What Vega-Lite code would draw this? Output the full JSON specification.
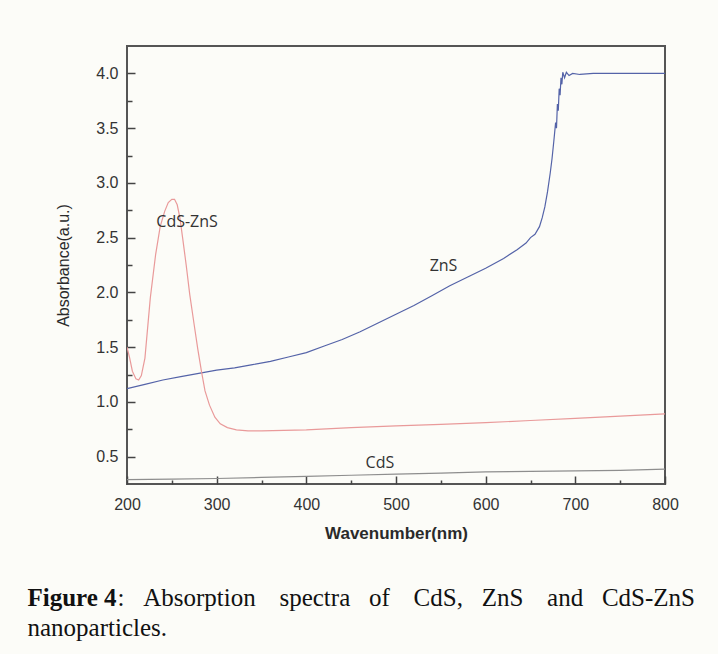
{
  "$schema": "https://vega.github.io/schema/vega-lite/v6.json",
  "autosize": "none",
  "width": 538,
  "height": 438,
  "padding": {"left": 127, "top": 46, "right": 53, "bottom": 170},
  "background": "#fcfcf8",
  "config": {
    "view": {"stroke": "#555555", "strokeWidth": 2},
    "axis": {"domain": false, "grid": false, "labelFont": "Liberation Sans", "labelFontSize": 16, "labelColor": "#333333", "labelFlush": false, "tickColor": "#444444", "tickWidth": 1.5, "titleFont": "Liberation Sans", "titleColor": "#2a2a2a"}
  },
  "datasets": {
    "spectra": [
      {"series": "ZnS", "x": 200, "y": 1.12}, {"series": "ZnS", "x": 220, "y": 1.16}, {"series": "ZnS", "x": 240, "y": 1.2}, {"series": "ZnS", "x": 260, "y": 1.23}, {"series": "ZnS", "x": 280, "y": 1.26}, {"series": "ZnS", "x": 300, "y": 1.29}, {"series": "ZnS", "x": 320, "y": 1.31}, {"series": "ZnS", "x": 340, "y": 1.34}, {"series": "ZnS", "x": 360, "y": 1.37}, {"series": "ZnS", "x": 380, "y": 1.41}, {"series": "ZnS", "x": 400, "y": 1.45}, {"series": "ZnS", "x": 420, "y": 1.51}, {"series": "ZnS", "x": 440, "y": 1.57}, {"series": "ZnS", "x": 460, "y": 1.64}, {"series": "ZnS", "x": 480, "y": 1.72}, {"series": "ZnS", "x": 500, "y": 1.8}, {"series": "ZnS", "x": 520, "y": 1.88}, {"series": "ZnS", "x": 540, "y": 1.97}, {"series": "ZnS", "x": 560, "y": 2.06}, {"series": "ZnS", "x": 580, "y": 2.14}, {"series": "ZnS", "x": 600, "y": 2.22}, {"series": "ZnS", "x": 620, "y": 2.31}, {"series": "ZnS", "x": 635, "y": 2.39}, {"series": "ZnS", "x": 645, "y": 2.45}, {"series": "ZnS", "x": 650, "y": 2.5}, {"series": "ZnS", "x": 655, "y": 2.53}, {"series": "ZnS", "x": 660, "y": 2.6}, {"series": "ZnS", "x": 663, "y": 2.68}, {"series": "ZnS", "x": 666, "y": 2.78}, {"series": "ZnS", "x": 669, "y": 2.92}, {"series": "ZnS", "x": 672, "y": 3.09}, {"series": "ZnS", "x": 674, "y": 3.22}, {"series": "ZnS", "x": 676, "y": 3.38}, {"series": "ZnS", "x": 678, "y": 3.55}, {"series": "ZnS", "x": 679, "y": 3.5}, {"series": "ZnS", "x": 680, "y": 3.72}, {"series": "ZnS", "x": 681, "y": 3.66}, {"series": "ZnS", "x": 682, "y": 3.86}, {"series": "ZnS", "x": 683, "y": 3.8}, {"series": "ZnS", "x": 684, "y": 3.96}, {"series": "ZnS", "x": 685, "y": 3.9}, {"series": "ZnS", "x": 686, "y": 4.01}, {"series": "ZnS", "x": 688, "y": 3.96}, {"series": "ZnS", "x": 690, "y": 4.01}, {"series": "ZnS", "x": 693, "y": 3.98}, {"series": "ZnS", "x": 697, "y": 4.0}, {"series": "ZnS", "x": 705, "y": 3.99}, {"series": "ZnS", "x": 720, "y": 4.0}, {"series": "ZnS", "x": 750, "y": 4.0}, {"series": "ZnS", "x": 800, "y": 4.0},
      {"series": "CdS-ZnS", "x": 200, "y": 1.5}, {"series": "CdS-ZnS", "x": 203, "y": 1.4}, {"series": "CdS-ZnS", "x": 206, "y": 1.28}, {"series": "CdS-ZnS", "x": 210, "y": 1.21}, {"series": "CdS-ZnS", "x": 213, "y": 1.2}, {"series": "CdS-ZnS", "x": 216, "y": 1.24}, {"series": "CdS-ZnS", "x": 220, "y": 1.4}, {"series": "CdS-ZnS", "x": 226, "y": 1.95}, {"series": "CdS-ZnS", "x": 232, "y": 2.35}, {"series": "CdS-ZnS", "x": 237, "y": 2.6}, {"series": "CdS-ZnS", "x": 242, "y": 2.74}, {"series": "CdS-ZnS", "x": 246, "y": 2.82}, {"series": "CdS-ZnS", "x": 250, "y": 2.85}, {"series": "CdS-ZnS", "x": 253, "y": 2.85}, {"series": "CdS-ZnS", "x": 256, "y": 2.8}, {"series": "CdS-ZnS", "x": 259, "y": 2.68}, {"series": "CdS-ZnS", "x": 262, "y": 2.5}, {"series": "CdS-ZnS", "x": 266, "y": 2.25}, {"series": "CdS-ZnS", "x": 270, "y": 1.98}, {"series": "CdS-ZnS", "x": 275, "y": 1.7}, {"series": "CdS-ZnS", "x": 279, "y": 1.48}, {"series": "CdS-ZnS", "x": 283, "y": 1.28}, {"series": "CdS-ZnS", "x": 287, "y": 1.1}, {"series": "CdS-ZnS", "x": 292, "y": 0.97}, {"series": "CdS-ZnS", "x": 298, "y": 0.86}, {"series": "CdS-ZnS", "x": 304, "y": 0.8}, {"series": "CdS-ZnS", "x": 312, "y": 0.765}, {"series": "CdS-ZnS", "x": 322, "y": 0.745}, {"series": "CdS-ZnS", "x": 335, "y": 0.735}, {"series": "CdS-ZnS", "x": 350, "y": 0.735}, {"series": "CdS-ZnS", "x": 400, "y": 0.745}, {"series": "CdS-ZnS", "x": 450, "y": 0.765}, {"series": "CdS-ZnS", "x": 500, "y": 0.78}, {"series": "CdS-ZnS", "x": 550, "y": 0.795}, {"series": "CdS-ZnS", "x": 600, "y": 0.81}, {"series": "CdS-ZnS", "x": 650, "y": 0.83}, {"series": "CdS-ZnS", "x": 700, "y": 0.85}, {"series": "CdS-ZnS", "x": 750, "y": 0.87}, {"series": "CdS-ZnS", "x": 800, "y": 0.89},
      {"series": "CdS", "x": 200, "y": 0.29}, {"series": "CdS", "x": 250, "y": 0.295}, {"series": "CdS", "x": 300, "y": 0.3}, {"series": "CdS", "x": 350, "y": 0.31}, {"series": "CdS", "x": 400, "y": 0.32}, {"series": "CdS", "x": 450, "y": 0.33}, {"series": "CdS", "x": 500, "y": 0.34}, {"series": "CdS", "x": 550, "y": 0.35}, {"series": "CdS", "x": 600, "y": 0.36}, {"series": "CdS", "x": 650, "y": 0.365}, {"series": "CdS", "x": 700, "y": 0.37}, {"series": "CdS", "x": 750, "y": 0.375}, {"series": "CdS", "x": 800, "y": 0.385}
    ],
    "labels": [
      {"text": "CdS-ZnS", "x": 267, "y": 2.64, "align": "left"},
      {"text": "ZnS", "x": 553, "y": 2.24, "align": "center"},
      {"text": "CdS", "x": 482, "y": 0.44, "align": "center"}
    ],
    "minor": [{"x": 250, "y": 0.75}]
  },
  "resolve": {"axis": {"x": "independent", "y": "independent"}},
  "layer": [
    {
      "data": {"name": "spectra"},
      "mark": {"type": "line", "strokeWidth": 1.2, "clip": true},
      "encoding": {
        "x": {"field": "x", "type": "quantitative", "scale": {"domain": [200, 800], "nice": false, "zero": false},
          "axis": {"orient": "bottom", "values": [200, 300, 400, 500, 600, 700, 800], "tickSize": -8, "labelPadding": 20, "title": "Wavenumber(nm)", "titleFontSize": 17, "titleFontWeight": "bold", "titlePadding": 13}},
        "y": {"field": "y", "type": "quantitative", "scale": {"domain": [0.25, 4.25], "nice": false, "zero": false},
          "axis": {"orient": "left", "values": [0.5, 1, 1.5, 2, 2.5, 3, 3.5, 4], "format": ".1f", "tickSize": -8, "labelPadding": 17, "title": "Absorbance(a.u.)", "titleFontSize": 16, "titleFontWeight": "normal", "titlePadding": 24}},
        "color": {"field": "series", "type": "nominal", "scale": {"domain": ["ZnS", "CdS-ZnS", "CdS"], "range": ["#5463a8", "#e99a9a", "#8e8e8e"]}, "legend": null}
      }
    },
    {
      "data": {"name": "minor"},
      "mark": {"type": "point", "opacity": 0},
      "encoding": {
        "x": {"field": "x", "type": "quantitative", "scale": {"domain": [200, 800], "nice": false, "zero": false},
          "axis": {"orient": "bottom", "values": [250, 350, 450, 550, 650, 750], "tickSize": -4, "labels": false,
            "title": ": \u00a0\u00a0Absorption \u00a0\u00a0\u2009spectra \u00a0\u00a0of \u00a0\u00a0\u2009CdS, \u00a0\u00a0ZnS \u00a0\u00a0\u2009and \u00a0\u00a0CdS-ZnS",
            "titleX": -10, "titleY": 101, "titleAlign": "left", "titleBaseline": "top", "titleAngle": 0,
            "titleFont": "Liberation Serif", "titleFontSize": 25, "titleFontWeight": "normal", "titleColor": "#111111"}},
        "y": {"field": "y", "type": "quantitative", "scale": {"domain": [0.25, 4.25], "nice": false, "zero": false},
          "axis": {"orient": "left", "values": [0.75, 1.25, 1.75, 2.25, 2.75, 3.25, 3.75], "tickSize": -5, "labels": false, "title": null}}
      }
    },
    {
      "data": {"name": "labels"},
      "mark": {"type": "text", "font": "Open Sans", "fontSize": 16, "color": "#333333", "baseline": "middle"},
      "encoding": {
        "x": {"field": "x", "type": "quantitative",
          "axis": {"orient": "bottom", "ticks": false, "labels": false, "domain": false,
            "title": "Figure 4", "titleX": -100, "titleY": 101, "titleAlign": "left", "titleBaseline": "top", "titleAngle": 0,
            "titleFont": "Liberation Serif", "titleFontSize": 25, "titleFontWeight": "bold", "titleColor": "#111111"}},
        "y": {"field": "y", "type": "quantitative",
          "axis": {"orient": "left", "ticks": false, "labels": false, "domain": false,
            "title": "nanoparticles.", "titleX": -100, "titleY": 569, "titleAlign": "left", "titleBaseline": "top", "titleAngle": 0,
            "titleFont": "Liberation Serif", "titleFontSize": 25, "titleFontWeight": "normal", "titleColor": "#111111"}},
        "text": {"field": "text"},
        "align": {"field": "align"}
      }
    }
  ]
}
